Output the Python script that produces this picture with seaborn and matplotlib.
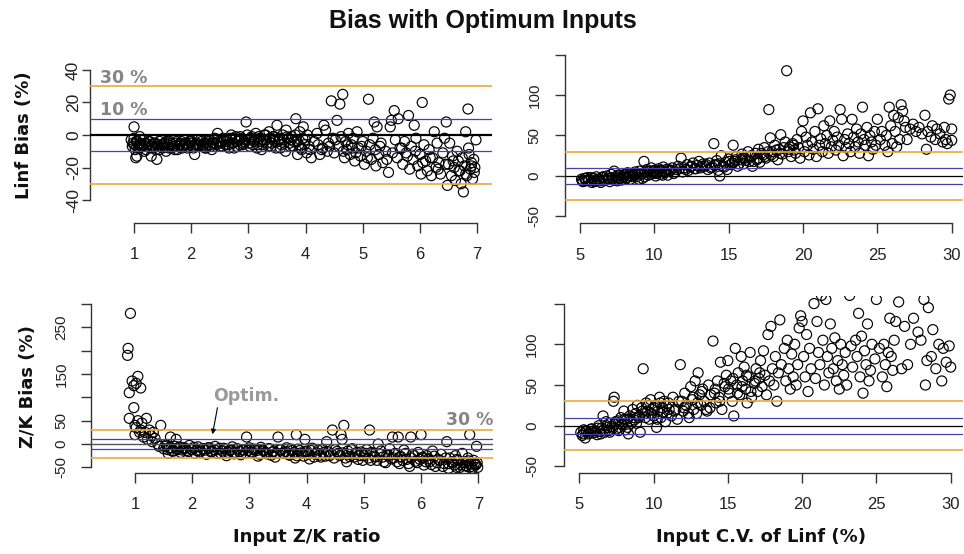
import matplotlib
matplotlib.use("Agg")
import matplotlib.pyplot as plt
import seaborn as sns

# ---------------- data ----------------
tl_x = [0.95,0.97,0.98,1.0,1.0,1.02,1.03,1.05,1.05,1.08,1.1,1.1,1.12,1.15,1.18,1.2,1.22,1.25,1.28,1.3,1.32,1.35,1.38,1.4,1.42,1.45,1.48,
        1.5,1.53,1.56,1.6,1.63,1.66,1.7,1.73,1.76,1.8,1.83,1.86,1.9,1.93,1.96,2.0,2.03,2.06,2.1,2.13,2.16,2.2,2.23,2.26,2.3,2.33,2.36,2.4,2.43,2.46,2.5,
        2.53,2.56,2.6,2.63,2.66,2.7,2.73,2.76,2.8,2.83,2.86,2.9,2.93,2.96,2.98,3.0,3.03,3.06,3.1,3.13,3.16,3.2,3.23,3.26,3.3,3.33,3.36,3.4,3.43,3.46,3.5,
        3.53,3.56,3.6,3.63,3.66,3.7,3.73,3.76,3.8,3.83,3.86,3.88,3.9,3.93,3.96,4.0,4.03,4.06,4.1,4.2,4.25,4.3,4.32,4.35,4.38,4.4,4.45,4.48,4.5,
        4.55,4.58,4.6,4.65,4.62,4.68,4.7,4.72,4.75,4.78,4.8,4.83,4.86,4.9,4.93,4.96,5.0,5.03,5.06,5.1,5.12,5.15,5.18,5.2,5.23,5.25,5.28,5.3,5.35,5.4,5.45,5.48,5.5,
        5.55,5.57,5.6,5.62,5.65,5.7,5.73,5.76,5.8,5.82,5.85,5.88,5.9,5.93,5.96,6.0,6.02,6.04,6.07,6.1,6.13,6.16,6.2,6.22,6.25,6.28,6.3,6.33,6.36,6.4,6.43,6.46,
        6.48,6.5,6.52,6.55,6.57,6.6,6.62,6.65,6.67,6.7,6.72,6.74,6.76,6.78,6.8,6.82,6.84,6.86,6.88,6.9,6.92,6.94,6.96,6.98,6.95,6.85]
tl_y = [-3,-7,-5,5,-2,-9,-14,-13,-4,-6,-1,-8,-3,-6,-10,-5,-7,-4,-8,-13,-6,-5,-9,-15,-7,-4,-6,
        -8,-5,-10,-6,-4,-8,-7,-5,-9,-6,-4,-7,-5,-8,-6,-4,-7,-12,-5,-6,-3,-7,-5,-8,-4,-6,-9,-3,-5,1,-7,
        -4,-2,-6,-3,-8,0,-5,-2,-7,-3,-1,-6,-4,8,0,-3,-7,-1,-4,1,-6,-2,-9,-3,0,-5,2,-7,-1,-4,6,
        -3,-8,0,-5,3,-2,-7,-1,-4,10,-12,-6,2,-9,5,-3,0,-7,-14,1,-12,-8,6,3,-10,-5,21,-2,-11,
        9,-7,19,25,-1,-14,-4,-9,1,-12,-6,-2,-16,2,-8,-13,-4,-18,-10,22,-6,-15,-2,8,-19,5,-12,-7,-17,-10,-23,5,9,
        15,-3,-14,10,-8,-18,-4,-11,12,-21,-7,-15,6,-2,-19,-12,-24,20,-6,-16,-22,-9,-25,-14,2,-20,-5,-17,-24,-11,-2,8,
        -31,-18,-5,-25,-13,-20,-28,-10,-16,-22,-30,-14,-35,-19,2,-25,16,-12,-21,-17,-27,-15,-20,-3,-23,-8]
tl_x_band = [1.01,1.04,1.07,1.11,1.14,1.17,1.21,1.24,1.27,1.31,
             1.34,1.37,1.41,1.44,1.47,1.51,1.54,1.57,1.61,1.64,
             1.67,1.71,1.74,1.77,1.81,1.84,1.87,1.91,1.94,1.97,
             2.01,2.04,2.08,2.11,2.14,2.18,2.21,2.24,2.28,2.31,
             2.34,2.38,2.41,2.44,2.48,2.51,2.55,2.58,2.61,2.65,
             2.68,2.71,2.75,2.78,2.81,2.85,2.88,2.91,2.95,3.01,
             3.05,3.08,3.11,3.15,3.18,3.21,3.25,3.28,3.31,3.35,
             3.38,3.41,3.45,3.48,3.52,3.55,3.58,3.62,3.65,3.68,
             3.72,3.75,3.78,3.82,3.85,3.92,3.95,3.98,4.02,4.08,
             4.15,4.22,4.28,4.42,4.52,4.66,4.74,4.82,4.88,4.98,
             5.08,5.22,5.32,5.42,5.52,5.68,5.78,5.92,6.05,6.18,
             6.32,6.45,6.58,6.68,6.8,6.9]
tl_y_band = [-6,-4,-8,-5,-7,-3,-9,-6,-4,-7,
             -8,-5,-6,-9,-3,-6,-7,-4,-8,-5,
             -6,-9,-4,-7,-5,-8,-3,-6,-7,-4,
             -5,-8,-6,-3,-7,-4,-6,-8,-5,-3,
             -7,-5,-2,-6,-4,-5,-7,-3,-4,-6,
             -2,-5,-8,-1,-4,-6,-2,-5,-3,-5,
             -2,-6,-3,-8,-1,-4,-6,0,-3,-7,
             -2,-5,-1,-8,-4,-2,-6,-3,-10,-1,
             -5,-3,-7,0,-4,-8,-2,-6,-11,-9,
             -4,-6,-9,-7,-3,-10,-6,-8,-11,-7,
             -14,-9,-5,-15,-11,-8,-13,-10,-17,-14,
             -21,-18,-16,-22,-24,-19]

tr_x = [5.1,5.2,5.3,5.4,5.5,5.6,5.8,5.9,6.0,6.1,6.3,6.4,6.5,6.6,6.8,6.9,7.0,7.1,7.2,7.3,7.4,7.5,7.6,7.7,7.8,7.9,
        8.0,8.1,8.2,8.3,8.4,8.5,8.6,8.7,8.8,8.9,9.0,9.1,9.2,9.3,9.4,9.5,9.6,9.7,9.8,9.9,10.0,10.1,10.2,10.3,10.4,10.5,10.6,10.7,10.8,10.9,
        11.0,11.2,11.3,11.5,11.6,11.8,11.9,12.0,12.2,12.3,12.5,12.6,12.8,12.9,13.0,13.1,13.3,13.4,13.6,13.7,13.9,14.0,14.1,14.2,14.3,14.4,14.5,14.6,14.8,14.9,
        15.0,15.1,15.3,15.4,15.5,15.6,15.8,15.9,16.0,16.1,16.3,16.4,16.5,16.6,16.8,16.9,17.0,17.1,17.3,17.4,17.5,17.7,17.8,17.9,18.0,18.1,18.3,18.4,18.5,18.6,18.8,18.9,19.0,
        19.1,19.2,19.3,19.4,19.5,19.6,19.7,19.8,19.9,20.0,20.1,20.2,20.3,20.4,20.5,20.6,20.7,20.8,20.9,21.0,21.1,21.2,21.3,21.4,21.5,21.6,21.7,21.8,21.9,22.0,
        22.1,22.2,22.3,22.4,22.5,22.6,22.7,22.8,22.9,23.0,23.1,23.2,23.3,23.4,23.5,23.6,23.7,23.8,23.9,24.0,24.1,24.2,24.3,24.4,24.5,24.6,24.7,24.8,24.9,
        25.0,25.2,25.3,25.5,25.6,25.7,25.8,25.9,26.0,26.1,26.2,26.3,26.4,26.5,26.6,26.7,26.8,26.9,27.0,27.2,27.4,27.6,27.8,28.0,28.2,28.3,28.4,28.6,28.7,28.9,29.0,29.2,29.4,29.5,29.6,29.7,29.8,29.9,30.0,30.0]
tr_y = [-4,-7,-3,-6,-2,-5,-8,-3,-6,-1,-4,-8,-2,-5,0,-3,-7,2,-4,6,-1,-6,-3,1,-5,-2,
        2,-3,4,0,-4,3,1,5,-1,3,6,2,-3,18,4,8,1,6,10,3,7,0,5,9,2,6,11,4,8,1,
        6,10,3,8,12,22,5,10,14,7,12,16,9,13,18,10,15,12,8,16,11,40,14,19,7,0,25,12,17,8,
        21,14,38,18,24,12,20,27,15,22,30,18,25,12,28,20,33,17,26,35,22,82,47,30,24,38,20,33,51,27,42,130,30,
        36,24,40,32,28,45,35,22,55,68,30,48,38,26,78,42,33,55,24,83,38,46,30,62,40,50,28,68,36,44,
        55,32,48,38,82,70,25,45,35,52,40,30,70,48,36,58,42,28,52,85,45,38,60,25,50,42,33,55,38,
        70,45,55,38,50,30,85,62,40,75,55,36,72,45,88,80,68,60,45,58,64,55,60,52,75,33,55,48,62,45,58,52,42,60,45,40,95,100,58,44]
tr_x_band = [5.15,5.35,5.55,5.75,5.95,6.15,6.35,6.55,6.75,6.95,
             7.15,7.35,7.55,7.75,7.95,8.15,8.35,8.55,8.75,8.95,
             9.15,9.35,9.55,9.75,9.95,10.15,10.35,10.55,10.75,10.95,
             11.1,11.4,11.7,12.1,12.4,12.7,13.2,13.5,13.8,14.05,
             14.35,14.7,15.05,15.25,15.45,15.7,15.95,16.2,16.45,16.7,
             16.95,17.2,17.45,17.65,17.85,18.2,18.45,18.7,19.05,19.35]
tr_y_band = [-6,-3,-5,-2,-7,-4,-6,-1,-5,-3,
             -2,-5,1,-3,0,-2,3,-1,2,-4,
             3,-1,5,2,6,3,7,1,5,8,
             7,5,9,8,11,9,12,14,10,13,
             15,11,18,16,20,15,22,19,24,18,
             22,28,24,30,26,32,28,35,33,38]

bl_x = [0.92,0.88,0.87,0.9,0.95,0.9,1.0,0.98,1.02,1.05,1.1,0.98,1.05,1.08,1.0,1.02,1.1,1.12,1.15,1.18,1.2,1.22,
        1.25,1.28,1.3,1.32,1.35,1.4,1.45,1.42,1.5,1.55,1.58,1.6,1.62,1.65,1.7,1.72,1.75,1.8,1.85,1.9,1.95,
        2.0,2.05,2.1,2.15,2.2,2.25,2.3,2.35,2.4,2.45,2.5,2.55,2.6,2.65,2.7,2.75,2.8,2.85,2.9,2.95,3.0,3.05,3.1,3.15,3.2,3.25,3.3,3.35,3.4,3.45,3.5,3.55,3.6,3.65,3.7,3.75,3.8,3.82,3.85,3.9,3.95,3.97,
        4.0,4.05,4.1,4.15,4.2,4.25,4.3,4.35,4.4,4.45,4.5,4.55,4.6,4.62,4.65,4.7,4.72,4.75,4.8,4.85,4.9,4.95,
        5.0,5.05,5.1,5.12,5.15,5.2,5.25,5.3,5.35,5.4,5.45,5.5,5.52,5.55,5.6,5.62,5.65,5.7,5.75,5.8,5.82,5.85,5.9,5.95,
        6.0,6.02,6.05,6.1,6.15,6.2,6.25,6.3,6.35,6.4,6.45,6.48,6.5,6.55,6.6,6.62,6.65,6.7,6.72,6.75,6.78,6.8,6.82,6.85,6.87,6.9,6.92,6.95,6.97,6.98,6.99]
bl_y = [280,205,190,110,135,55,40,125,130,145,120,78,50,25,20,35,30,45,15,25,55,10,
        30,18,5,25,12,0,40,-5,-10,-2,-20,-8,15,-15,-5,10,-12,-18,-8,-14,-3,
        -12,-20,-6,-15,-10,-22,-8,-16,-5,-12,-20,-9,-25,-14,-6,-18,-11,-23,-13,15,-8,-19,-12,-26,-7,-15,-21,-10,-17,-28,15,-12,-20,-8,-24,-14,-30,20,-11,-19,-26,10,
        -15,-32,-9,-22,-13,-28,-18,5,-25,30,-12,-20,20,10,40,-38,-15,-27,-10,-22,-33,-17,
        -25,-12,30,-35,-20,-28,0,-15,-38,-24,-10,15,-30,-20,15,-42,-27,-13,-33,-48,15,-22,-37,-18,
        20,-30,-45,-25,-38,-15,-48,-33,-22,-42,5,-52,-30,-40,-25,-50,-35,-45,-20,-55,-38,-48,-30,20,-42,-52,-35,-45,-5,-40,-50]
bl_x_band = [1.52,1.57,1.63,1.68,1.73,1.78,1.83,1.88,1.93,1.98,
             2.03,2.08,2.13,2.18,2.23,2.28,2.33,2.38,2.43,2.48,
             2.53,2.58,2.63,2.68,2.73,2.78,2.83,2.88,2.93,2.98,
             3.03,3.08,3.13,3.18,3.23,3.28,3.33,3.38,3.43,3.48,
             3.53,3.58,3.63,3.68,3.73,3.78,3.83,3.88,3.93,3.98,
             4.03,4.08,4.13,4.18,4.23,4.28,4.33,4.38,4.43,4.48,
             4.53,4.58,4.63,4.68,4.73,4.78,4.83,4.88,4.93,4.98,
             5.03,5.08,5.13,5.18,5.23,5.28,5.33,5.38,5.43,5.48,
             5.53,5.58,5.63,5.68,5.73,5.78,5.83,5.88,5.93,5.98,
             6.03,6.08,6.13,6.18,6.23,6.28,6.33,6.38,6.43,6.48,
             6.53,6.58,6.63,6.68,6.73,6.78,6.83,6.88,6.93,6.96]
bl_y_band = [-5,-12,-8,-15,-10,-6,-13,-9,-16,-11,
             -7,-14,-18,-10,-13,-8,-17,-12,-20,-9,
             -15,-11,-18,-13,-21,-10,-16,-12,-19,-14,
             -17,-11,-14,-22,-13,-18,-10,-24,-15,-20,
             -12,-19,-16,-22,-11,-18,-25,-14,-20,-17,
             -22,-14,-28,-19,-24,-11,-26,-17,-21,-30,
             -16,-25,-19,-30,-22,-12,-28,-18,-25,-35,
             -20,-30,-18,-26,-35,-22,-28,-40,-25,-32,
             -22,-38,-28,-35,-20,-42,-30,-25,-40,-33,
             -28,-38,-32,-44,-26,-40,-35,-48,-30,-42,
             -38,-45,-33,-50,-40,-46,-36,-48,-42,-44]

br_x = [5.1,5.2,5.3,5.4,5.5,5.6,5.8,5.9,6.0,6.2,6.3,6.4,6.5,6.6,6.7,6.8,6.9,
        7.0,7.1,7.2,7.3,7.35,7.4,7.5,7.6,7.7,7.8,7.9,8.0,8.1,8.2,8.3,8.4,8.5,8.6,8.7,8.8,8.9,
        9.0,9.1,9.3,9.2,9.4,9.5,9.6,9.7,9.8,9.9,10.0,10.1,10.2,10.3,10.4,10.5,10.6,10.7,10.8,10.9,
        11.0,11.2,11.3,11.5,11.6,11.8,11.9,12.0,12.1,12.2,12.4,12.5,12.6,12.7,12.8,12.9,13.0,13.1,
        13.2,13.3,13.4,13.6,13.7,13.8,14.0,14.1,14.2,14.3,14.4,14.5,14.6,14.8,14.9,15.0,
        15.1,15.2,15.3,15.4,15.5,15.6,15.7,15.8,15.9,16.0,16.1,16.2,16.3,16.4,16.5,16.6,16.8,16.9,17.0,
        17.1,17.2,17.3,17.4,17.5,17.6,17.7,17.8,17.9,18.0,18.1,18.2,18.3,18.4,18.5,18.6,18.8,18.9,19.0,
        19.1,19.2,19.3,19.4,19.5,19.6,19.7,19.8,19.9,20.0,20.1,20.2,20.3,20.4,20.5,20.6,20.8,20.9,21.0,21.1,21.2,21.3,21.4,21.5,21.6,21.7,21.8,21.9,22.0,
        22.1,22.2,22.3,22.4,22.5,22.6,22.7,22.8,22.9,23.0,23.2,23.3,23.4,23.6,23.7,23.8,23.9,24.0,24.1,24.2,24.3,24.4,24.5,24.6,24.7,24.9,
        25.0,25.2,25.4,25.5,25.6,25.7,25.8,25.9,26.0,26.1,26.2,26.3,26.5,26.7,26.9,27.1,27.3,27.5,27.8,28.0,28.2,28.3,28.4,28.5,28.7,28.8,29.0,29.2,29.4,29.5,29.7,29.9,30.0]
br_y = [-8,-12,-5,-15,-7,-10,-4,-9,-6,-11,0,-7,-3,12,-8,5,-2,
        -6,3,-1,30,35,2,-4,6,-2,10,1,18,-5,8,-10,12,3,20,7,15,25,
        10,-8,70,22,15,28,18,8,32,20,12,25,-2,18,35,10,22,30,5,15,
        28,12,35,20,8,75,30,18,40,25,10,48,32,20,55,15,65,38,
        25,45,30,18,50,22,104,40,28,55,35,78,20,48,62,80,
        40,55,30,12,95,50,65,38,85,55,72,45,28,60,90,35,52,70,42,
        58,80,48,92,62,38,112,55,122,70,50,85,30,65,130,75,95,55,105,
        70,45,88,60,100,50,75,120,135,128,85,60,112,42,95,70,150,58,128,90,75,160,105,50,155,85,65,125,95,
        70,108,55,80,45,100,75,62,90,50,160,98,72,105,85,138,60,110,40,92,75,125,55,68,100,82,
        155,95,60,100,75,48,90,132,85,68,105,128,152,70,122,75,100,132,115,105,155,50,80,145,85,118,70,100,55,95,78,98,72]
br_x_band = [5.25,5.45,5.65,5.85,6.05,6.25,6.45,6.65,6.85,7.05,
             7.25,7.45,7.65,7.85,8.05,8.25,8.45,8.65,8.85,9.05,
             9.25,9.45,9.65,9.85,10.05,10.25,10.45,10.65,10.85,11.05,
             11.4,11.7,12.05,12.35,12.65,12.95,13.25,13.55,13.85,14.15,
             14.45,14.75,15.05,15.35,15.65,15.95,16.25,16.55,16.85,17.15]
br_y_band = [-10,-6,-9,-4,-8,-3,-10,-5,0,-8,
             -3,5,-6,2,8,-2,6,10,3,12,
             18,10,25,15,22,8,28,16,24,20,
             18,30,22,15,35,28,42,20,38,45,
             30,52,45,58,40,48,62,42,55,65]

outer_ref = [30, -30]
inner_ref = [10, -10]
tl_yticks = [-40, -20, 0, 20, 40]
tr_yticks = [-50, 0, 50, 100, 150]
tr_ylabels = ["-50", "0", "50", "100", ""]
bl_yticks = [-50, 0, 50, 100, 150, 200, 250, 300]
bl_ylabels = ["-50", "0", "50", "", "150", "", "250", ""]
zk_xticks = [1, 2, 3, 4, 5, 6, 7]
cv_xticks = [5, 10, 15, 20, 25, 30]

# ---------------- style ----------------
sns.set_style("white")
plt.rcParams["font.family"] = ["Liberation Sans", "DejaVu Sans"]

W, H = 964, 554
fig = plt.figure(figsize=(W / 100, H / 100), dpi=100)

ORANGE = "#EBA93A"
BLUE = "#4343A8"
SPINE = "#333333"


def make_ax(left, top, right, bottom):
    return fig.add_axes([left / W, 1 - bottom / H, (right - left) / W, (bottom - top) / H])


def style(ax, xlim, ylim, xticks, yticks, ylabels, ybounds, xoff, ysize, ypad, ylen):
    ax.set_xlim(*xlim)
    ax.set_ylim(*ylim)
    for s in ["top", "right"]:
        ax.spines[s].set_visible(False)
    for s in ["left", "bottom"]:
        ax.spines[s].set_color(SPINE)
        ax.spines[s].set_linewidth(1.0)
    ax.spines["left"].set_bounds(*ybounds)
    ax.spines["bottom"].set_bounds(xticks[0], xticks[-1])
    ax.spines["bottom"].set_position(("outward", xoff))
    ax.set_xticks(xticks)
    ax.set_xticklabels([str(v) for v in xticks])
    ax.set_yticks(yticks)
    ax.set_yticklabels(ylabels)
    ax.tick_params(axis="x", direction="out", length=7.5, width=1, color=SPINE,
                   labelsize=12, pad=10, labelcolor="#222222", bottom=True)
    ax.tick_params(axis="y", direction="out", length=ylen, width=1, color=SPINE,
                   labelsize=ysize, pad=ypad, labelcolor="#222222", left=True, labelrotation=90)
    for lab in ax.get_yticklabels():
        lab.set_va("center")
        lab.set_ha("right")
    ax.set_xlabel("")
    ax.set_ylabel("")
    ax.patch.set_alpha(0)


def scatter(ax, x, y):
    sns.scatterplot(x=x, y=y, ax=ax, s=52, facecolor="none", edgecolor="black",
                    linewidth=0.85, zorder=2, legend=False)


def ref_lines(ax, zero_color, zero_lw):
    for v in outer_ref:
        ax.axhline(v, color=ORANGE, lw=1.2, zorder=3)
    for v in inner_ref:
        ax.axhline(v, color=BLUE, lw=0.9, zorder=3)
    ax.axhline(0, color=zero_color, lw=zero_lw, zorder=3)


# top-left
ax1 = make_ax(90, 62, 492, 208)
scatter(ax1, tl_x + tl_x_band, tl_y + tl_y_band)
ref_lines(ax1, "black", 1.6)
style(ax1, (0.23, 7.26), (-44.9, 44.9), zk_xticks, tl_yticks,
      [str(v) for v in tl_yticks], (-40, 40), 10.6, 12.5, 0.5, 6)
gray_kw = dict(color="#858585", fontweight="bold", fontsize=12.5, family=["DejaVu Sans"])
ax1.text(0.405, 35.1, "30 %", ha="left", va="center", **gray_kw)
ax1.text(0.405, 15.4, "10 %", ha="left", va="center", **gray_kw)

# top-right
ax2 = make_ax(565, 50, 963, 218)
scatter(ax2, tr_x + tr_x_band, tr_y + tr_y_band)
ref_lines(ax2, "black", 0.9)
style(ax2, (3.99, 30.76), (-51.9, 155.6), cv_xticks, tr_yticks, tr_ylabels,
      (-50, 150), 3.8, 11, 10, 7)

# bottom-left
ax3 = make_ax(90.7, 298, 493, 473)
scatter(ax3, bl_x + bl_x_band, bl_y + bl_y_band)
ref_lines(ax3, "#555555", 1.0)
style(ax3, (0.226, 7.257), (-62.1, 312.9), zk_xticks, bl_yticks, bl_ylabels,
      (-50, 300), 0, 11, 9, 7)
ax3.text(1.0, 51.4, "30 %", ha="right", va="center", transform=ax3.get_yaxis_transform(), **gray_kw)
ax3.annotate("", xy=(2.346, 15), xytext=(2.45, 83.6),
             arrowprops=dict(arrowstyle="-|>", color="black", lw=0.8, mutation_scale=7))
ax3.text(2.94, 102.9, "Optim.", ha="center", va="center", color="#9a9a9a",
         fontweight="bold", fontsize=12.5, family=["DejaVu Sans"])

# bottom-right
ax4 = make_ax(564, 296, 963, 472)
scatter(ax4, br_x + br_x_band, br_y + br_y_band)
ref_lines(ax4, "black", 0.9)
style(ax4, (3.97, 30.83), (-56.8, 159.3), cv_xticks, tr_yticks, tr_ylabels,
      (-50, 150), 0.5, 11, 11, 7)

# labels
lab_kw = dict(fontweight="bold", fontsize=13, family=["DejaVu Sans"], color="#111111")
fig.text(24 / W, 1 - 135 / H, "Linf Bias (%)", rotation=90, ha="center", va="center", **lab_kw)
fig.text(28 / W, 1 - 387 / H, "Z/K Bias (%)", rotation=90, ha="center", va="center", **lab_kw)
fig.text(307 / W, 1 - 537 / H, "Input Z/K ratio", ha="center", va="center", **lab_kw)
fig.text(761 / W, 1 - 537 / H, "Input C.V. of Linf (%)", ha="center", va="center", **lab_kw)
fig.text(483 / W, 1 - 21 / H, "Bias with Optimum Inputs", ha="center", va="center",
         fontweight="bold", fontsize=18, family=["Liberation Sans"], color="#111111")

fig.savefig("out.png", dpi=100)
